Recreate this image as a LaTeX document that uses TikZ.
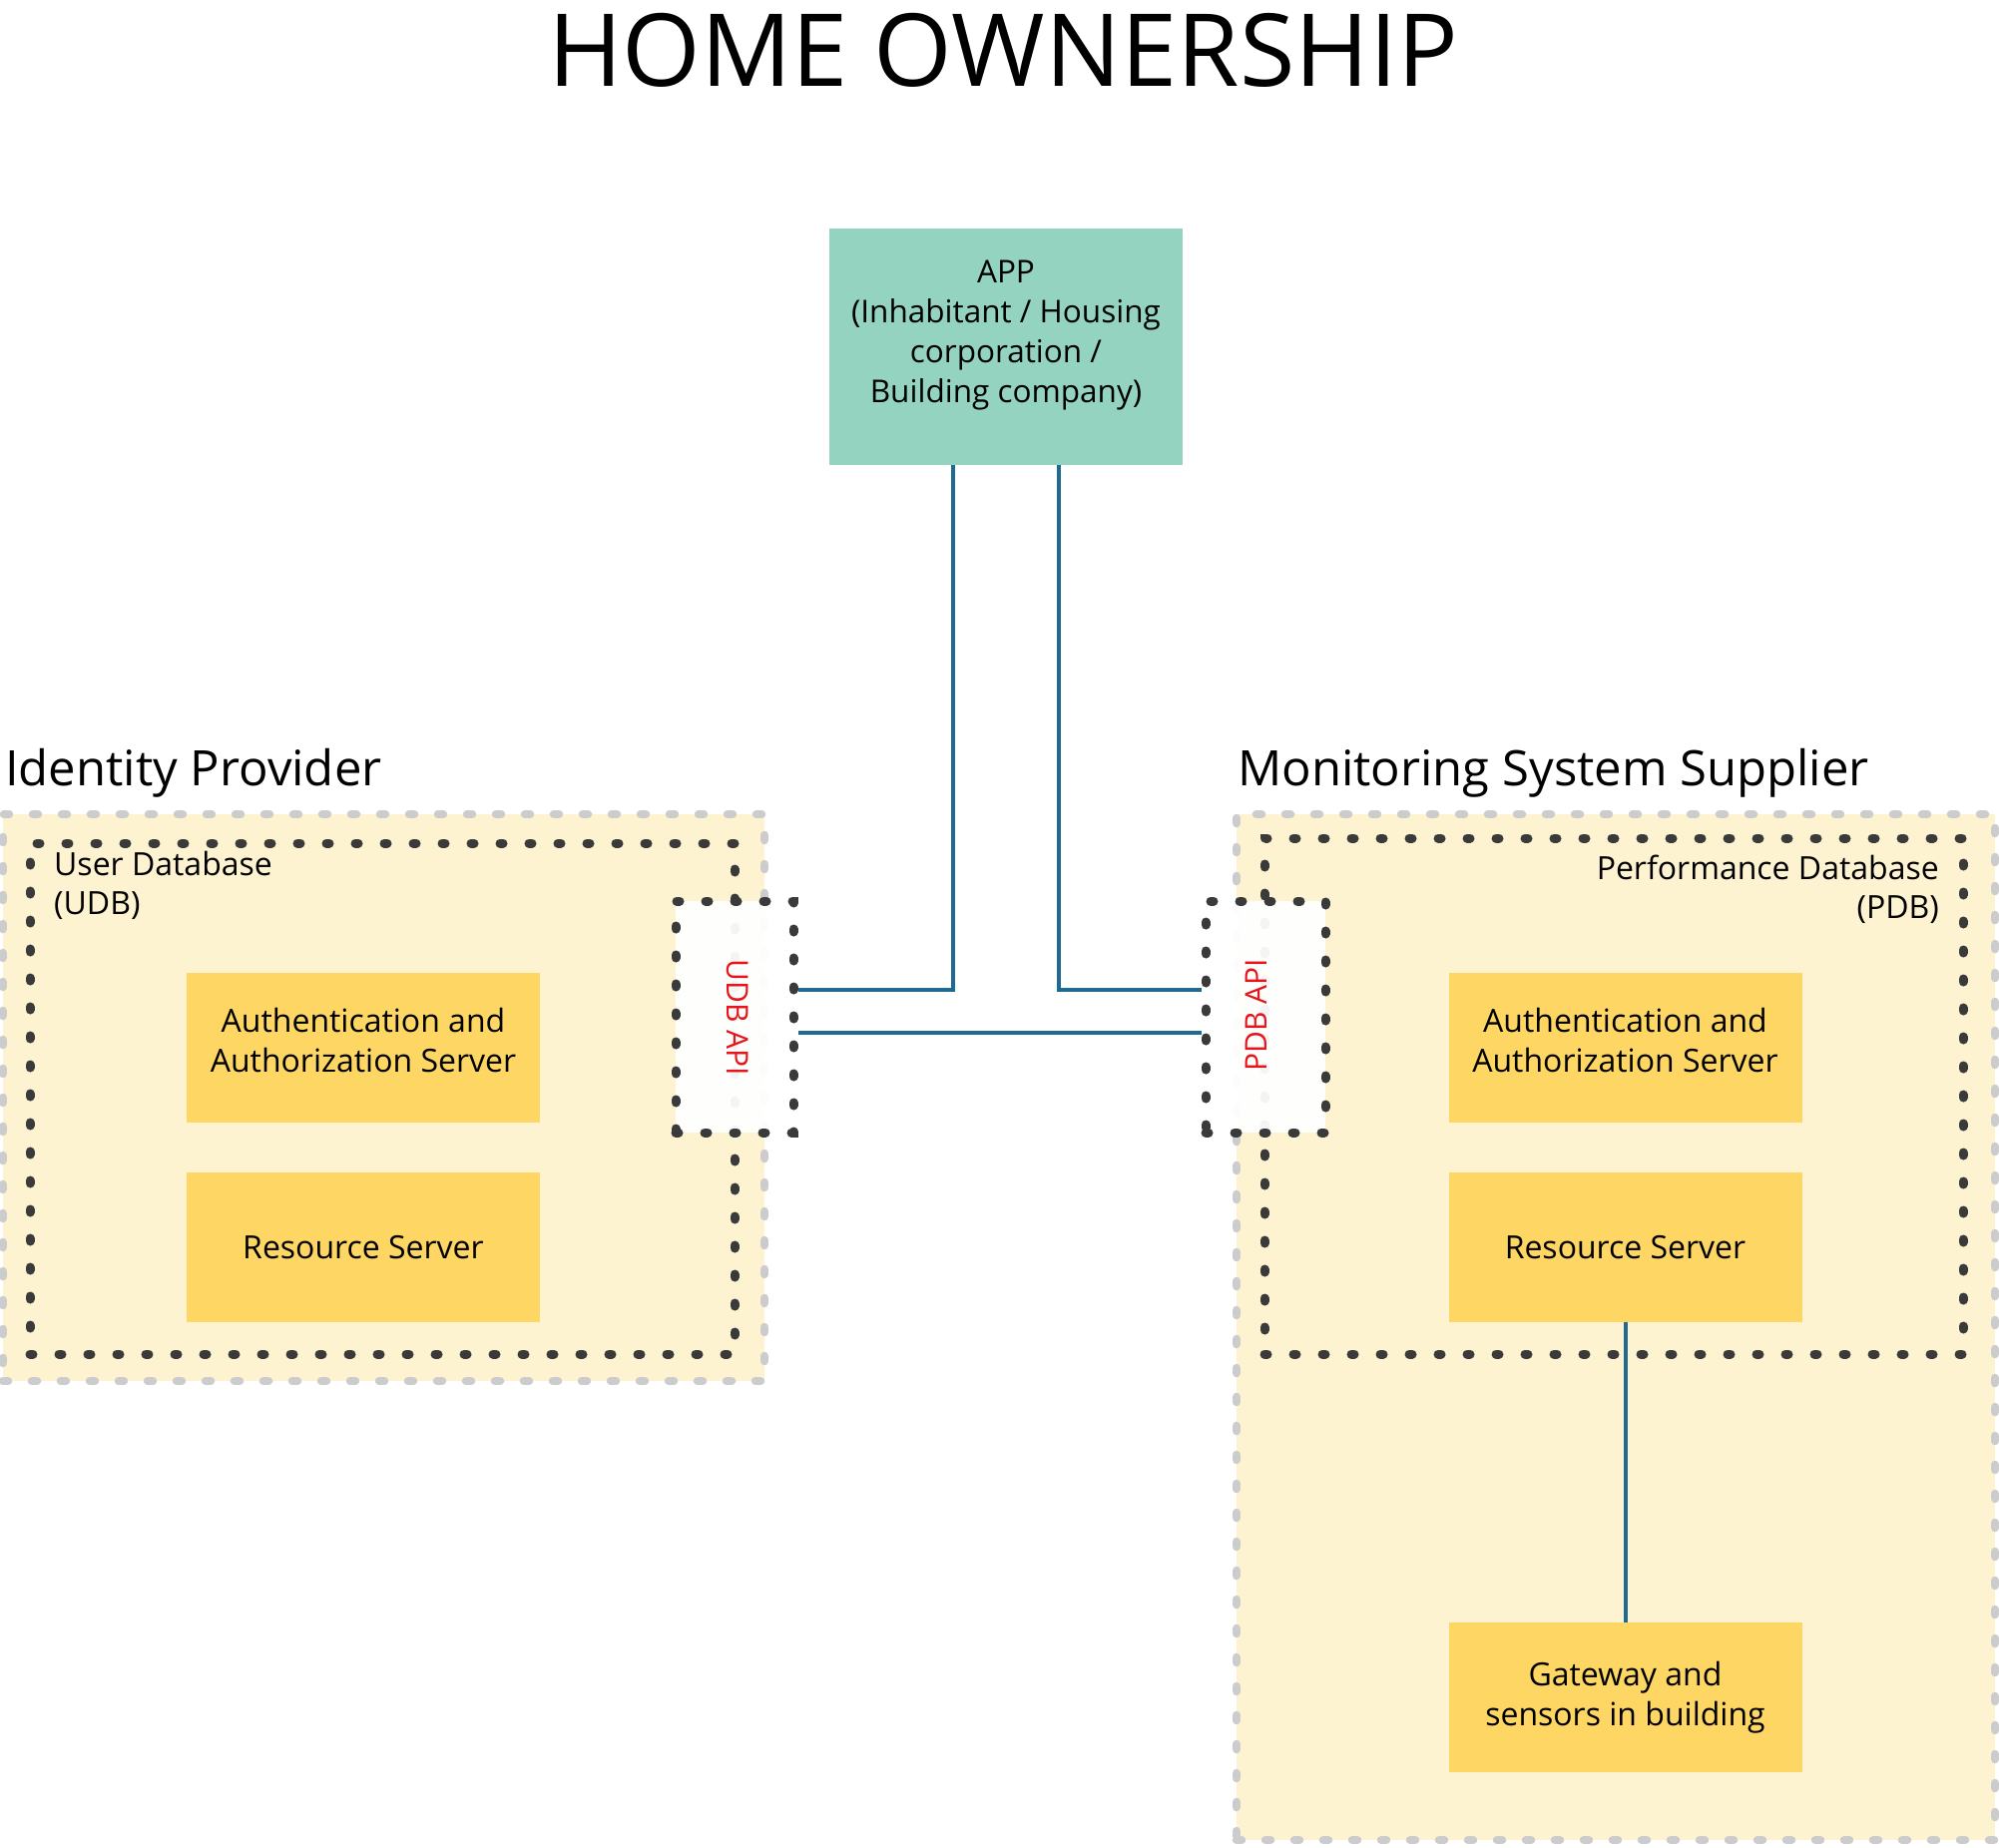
\documentclass[tikz,border=0pt]{standalone}
\usepackage{fontspec}
\setmainfont{Open Sans}
\definecolor{mint}{HTML}{93D3BF}
\definecolor{boxyellow}{HTML}{FDD663}
\definecolor{paleyellow}{HTML}{FEF3D1}
\definecolor{graydot}{HTML}{CCCCCC}
\definecolor{darkdot}{HTML}{3A3A3A}
\definecolor{conncol}{HTML}{1F6A91}
\definecolor{apired}{HTML}{E8141B}
\begin{document}
\begin{tikzpicture}[x=1pt,y=1pt,
  graydots/.style={line width=8.5pt, line cap=round, dash pattern=on 5pt off 24pt},
  darkdots/.style={line width=9pt, line cap=round, dash pattern=on 3pt off 26pt},
  outerbox/.style={graydots, draw=graydot, fill=paleyellow, inner sep=0pt},
  innerbox/.style={darkdots, draw=darkdot, inner sep=0pt},
  apibox/.style={darkdots, draw=darkdot, fill=white, fill opacity=0.95, draw opacity=1, inner sep=0pt, minimum height=232},
  srvbox/.style={fill=boxyellow, inner sep=0pt, minimum width=354, minimum height=150, align=center, font=\fontsize{32}{39.5}\selectfont},
  authbox/.style={srvbox, text depth=15pt},
  appbox/.style={fill=mint, inner sep=0pt, minimum width=354, minimum height=237},
  apptext/.style={inner sep=0pt, align=center, font=\fontsize{31.5}{40}\selectfont},
  headtext/.style={anchor=base west, inner sep=0pt, font=\fontsize{49}{56}\selectfont},
  labtext/.style={inner sep=0pt, font=\fontsize{32}{39.5}\selectfont},
  apitext/.style={inner sep=0pt, text=apired, font=\fontsize{30}{36}\selectfont},
  conn/.style={draw=conncol, line width=4pt}
]
\useasboundingbox (0,0) rectangle (2003,-1852);
\fill[white] (0,0) rectangle (2003,-1852);

% title
\node[anchor=base, inner sep=0pt, font=\fontsize{101}{110}\selectfont] (title) at (1005,-87) {HOME OWNERSHIP};

% group headings
\node[headtext] (idphead) at (5,-787) {Identity Provider};
\node[headtext] (msshead) at (1240,-787) {Monitoring System Supplier};

% outer containers
\node[outerbox, minimum width=763, minimum height=568] (idp) at (384.5,-1100) {};
\node[outerbox, minimum width=760, minimum height=1028] (mss) at (1619,-1330) {};

% databases
\node[innerbox, minimum width=706, minimum height=512] (udb) at (383,-1101) {};
\node[innerbox, minimum width=700, minimum height=517] (pdb) at (1617,-1098.5) {};

\node[labtext, anchor=base west] (udblab1) at (54,-877) {User Database};
\node[labtext, anchor=base west] (udblab2) at (54,-916) {(UDB)};
\node[labtext, anchor=base east] (pdblab1) at (1943,-881) {Performance Database};
\node[labtext, anchor=base east] (pdblab2) at (1943,-920) {(PDB)};

% servers
\node[authbox] (authL) at (364,-1050) {Authentication and\\Authorization Server};
\node[srvbox] (resL) at (364,-1250) {Resource Server};
\node[authbox] (authR) at (1628.5,-1050) {Authentication and\\Authorization Server};
\node[srvbox] (resR) at (1628.5,-1250) {Resource Server};
\node[srvbox] (gate) at (1628.5,-1701) {Gateway and\\sensors in building};

% API boxes
\node[apibox, minimum width=118] (udbapi) at (736,-1019) {};
\node[apibox, minimum width=120] (pdbapi) at (1268,-1019) {};
\node[apitext, rotate=-90] (udbapitxt) at (739,-1020) {UDB API};
\node[apitext, rotate=90] (pdbapitxt) at (1259,-1017) {PDB API};

% app
\node[appbox] (app) at (1008,-347.5) {};
\node[apptext] (apptxt) at (1008,-336) {APP\\(Inhabitant / Housing\\corporation /\\Building company)};

% connectors
\draw[conn] ([xshift=-53pt]app.south) |- ([yshift=27pt]udbapi.east);
\draw[conn] ([xshift=53pt]app.south) |- ([yshift=27pt]pdbapi.west);
\draw[conn] ([yshift=-16pt]udbapi.east) -- ([yshift=-16pt]pdbapi.west);
\draw[conn] (resR.south) -- (gate.north);
\end{tikzpicture}
\end{document}
